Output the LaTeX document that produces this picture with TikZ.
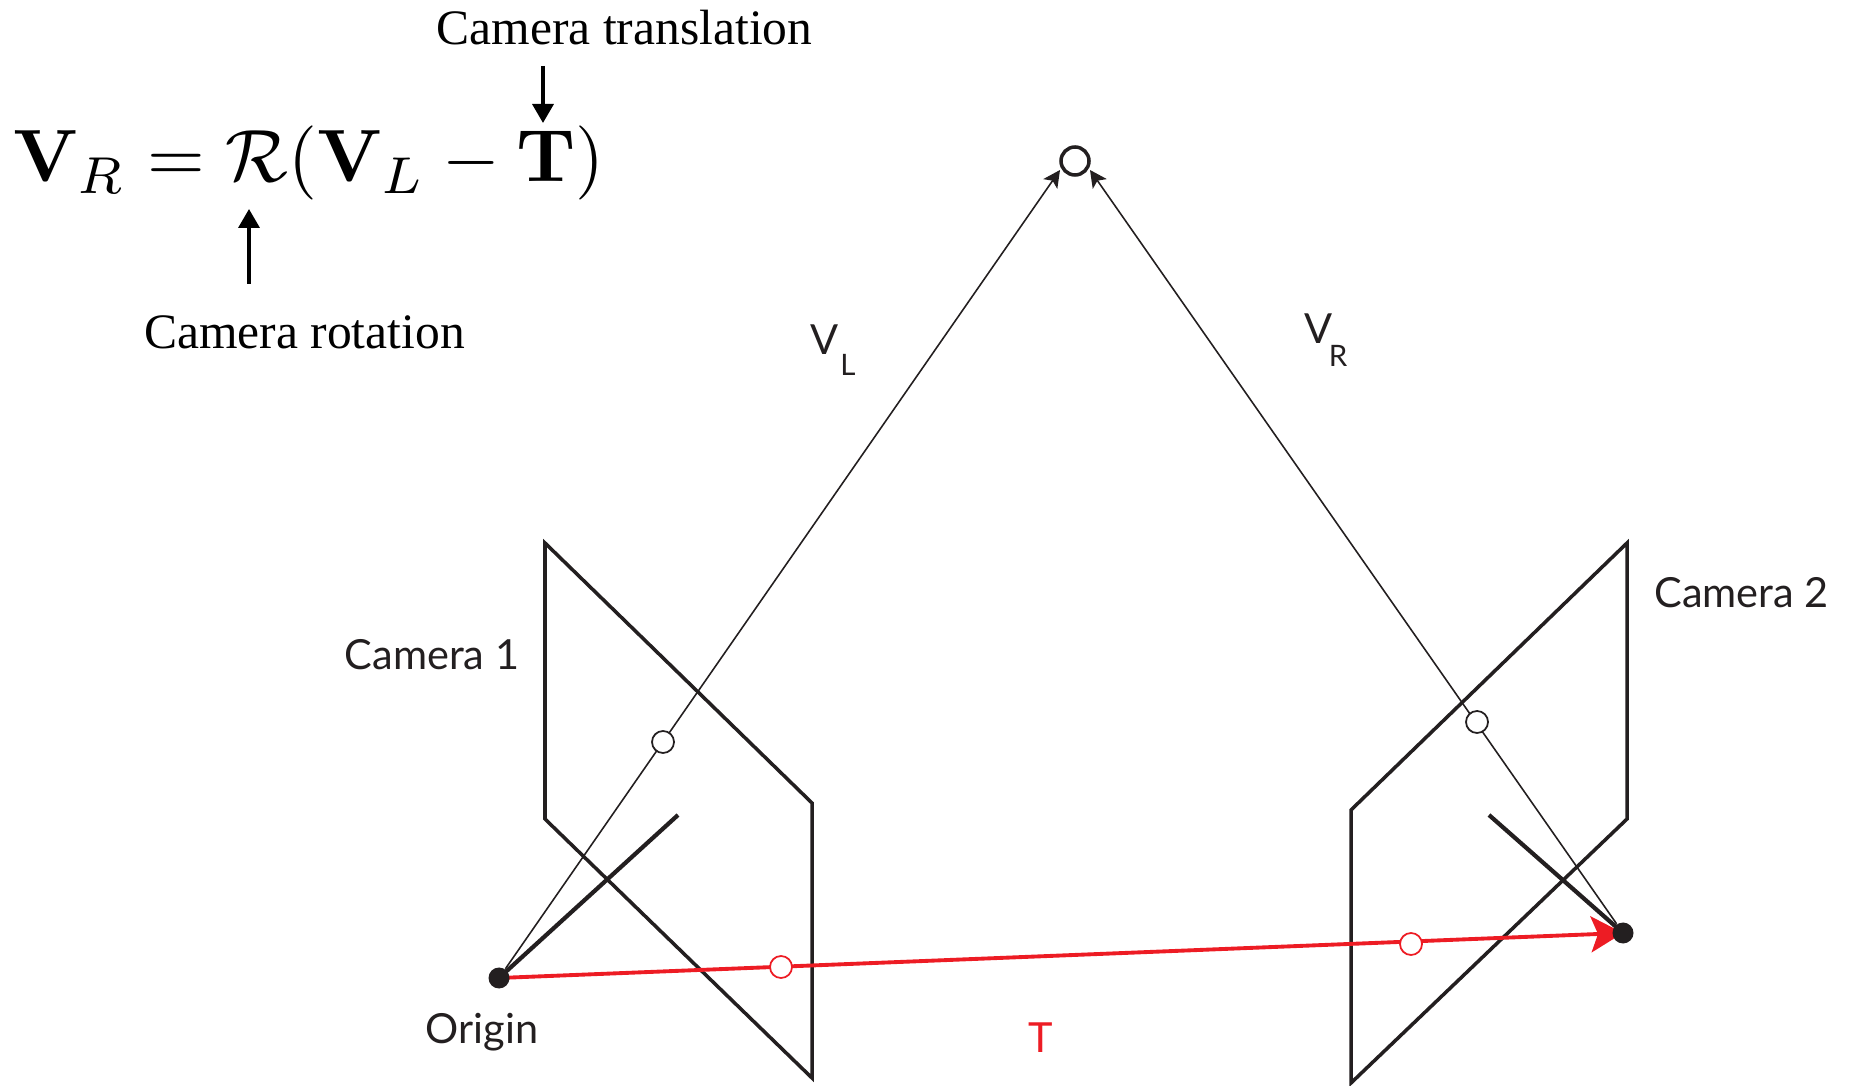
\documentclass[tikz,border=0pt]{standalone}
\usepackage[no-math]{fontspec}
\usepackage{amsmath,amssymb}
\usepackage{tikz}
\usetikzlibrary{arrows.meta,positioning,backgrounds}
\newfontfamily\capfont{Liberation Serif}
\newfontfamily\labfont{Lato}
\definecolor{cInk}{RGB}{35,31,32}
\definecolor{cRed}{RGB}{237,28,36}
\tikzset{
  planeline/.style={draw=cInk,line width=1pt,line join=miter},
  axisline/.style={draw=cInk,line width=1.2pt},
  rayarr/.style={-{Stealth[length=1.7mm,width=1.7mm,inset=0.4mm]},draw=cInk,fill=cInk,line width=0.45pt},
  capnarr/.style={-{Stealth[length=1.9mm,width=2.1mm,inset=0pt]},draw=black,line width=1pt},
  redarr/.style={-{Stealth[length=3.2mm,width=3.6mm,inset=0.7mm]},draw=cRed,line width=1.1pt},
  capnlabel/.style={font=\capfont\fontsize{14.1}{16}\selectfont,text=black,inner sep=0pt,anchor=base},
  camlabel/.style={font=\labfont\fontsize{11.8}{14}\selectfont,text=cInk,inner sep=0pt,anchor=base},
  sublabel/.style={font=\labfont\fontsize{8.4}{10}\selectfont,text=cInk,inner sep=0pt,anchor=base},
  dotnode/.style={circle,fill=cInk,inner sep=0pt,minimum size=0.21cm},
  holenode/.style={circle,draw=cInk,fill=white,line width=0.5pt,inner sep=0pt,minimum size=0.22cm},
  rednode/.style={holenode,draw=cRed},
  targetnode/.style={circle,draw=cInk,fill=white,line width=1pt,inner sep=0pt,minimum size=0.28cm}
}
\begin{document}
\begin{tikzpicture}
  \useasboundingbox (0,0) rectangle (18.5,10.85);

  % points
  \node[targetnode] (target) at (10.75,9.24) {};
  \node[dotnode] (origin) at (4.99,1.07) {};
  \node[dotnode] (camtwo) at (16.23,1.52) {};
  \node[holenode] (imgone) at (6.63,3.43) {};
  \node[holenode] (imgtwo) at (14.77,3.63) {};
  \node[rednode] (epione) at (7.81,1.18) {};
  \node[rednode] (epitwo) at (14.11,1.41) {};
  \coordinate (axisone) at (6.78,2.70);
  \coordinate (axistwo) at (14.89,2.70);
  \coordinate (tipone) at (10.60,9.15);
  \coordinate (tiptwo) at (10.90,9.15);

  % image planes and rays
  \begin{scope}[on background layer]
    \draw[planeline] (5.45,5.42)--(5.45,2.66)--(8.12,0.07)--(8.12,2.82)--cycle;
    \draw[planeline] (13.51,0.02)--(13.51,2.75)--(16.27,5.42)--(16.27,2.66)--cycle;
    \draw[axisline] (origin.center)--(axisone);
    \draw[axisline] (camtwo.center)--(axistwo);
    \draw[rayarr] (origin)--(tipone);
    \draw[rayarr] (camtwo)--(tiptwo);
    \draw[redarr] (origin.center)--(camtwo.center);
  \end{scope}

  % equation and its captions
  \node[inner sep=0pt,anchor=base,scale=2.11] (eqn) at (3.09,9.03)
      {$\mathbf{V}_R=\mathcal{R}(\mathbf{V}_L-\mathbf{T})$};
  \node[capnlabel] (translab) at (6.245,10.40) {Camera translation};
  \node[capnlabel] (rotlab) at (3.045,7.36) {Camera rotation};
  \coordinate (transtail) at (5.43,10.19);
  \coordinate (transhead) at (5.43,9.62);
  \coordinate (rottail) at (2.49,8.01);
  \coordinate (rothead) at (2.49,8.76);
  \draw[capnarr] (transtail)--(transhead);
  \draw[capnarr] (rottail)--(rothead);

  % labels
  \node[camlabel] (camonelab) at (4.32,4.15) {Camera 1};
  \node[camlabel] (camtwolab) at (17.415,4.77) {Camera 2};
  \node[camlabel] (originlab) at (4.82,0.42) {Origin};
  \node[camlabel,text=cRed] (tlab) at (10.41,0.33) {T};
  \node[camlabel] (vllab) at (8.25,7.30) {V};
  \node[sublabel] (vlsub) at (8.48,7.09) {L};
  \node[camlabel] (vrlab) at (13.19,7.41) {V};
  \node[sublabel] (vrsub) at (13.38,7.18) {R};
\end{tikzpicture}
\end{document}
